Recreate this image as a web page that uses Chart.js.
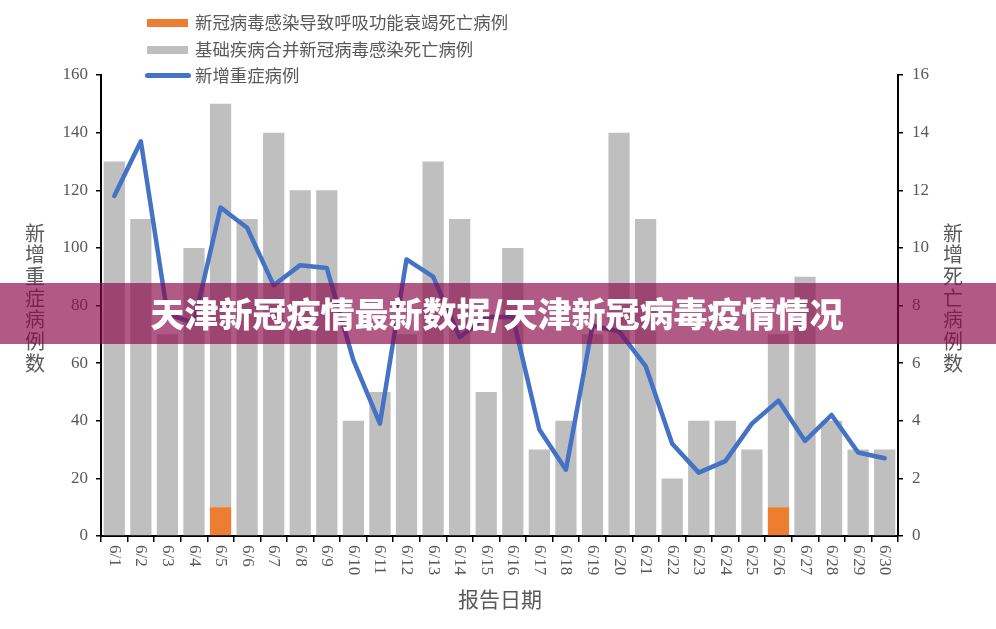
<!DOCTYPE html>
<html>
<head>
<meta charset="utf-8">
<script src="https://cdn.jsdelivr.net/npm/chart.js@4/dist/chart.umd.min.js"></script>
<style>
  body { margin: 0; background: #fff; }
  #wrap { position: relative; width: 996px; height: 629px; }
  #legend { position: absolute; left: 145px; top: 9px; font-family: "Noto Sans CJK SC"; font-size: 17.4px; color: #595959; }
  .item { position: relative; height: 26.7px; line-height: 26.7px; padding-left: 50px; }
  .sw { position: absolute; left: 2px; top: 10px; width: 41px; height: 8px; }
  .ln { position: absolute; left: 0px; top: 11px; width: 46px; height: 5px; border-radius: 3px; background: #4472c4; }
  #banner { position: absolute; left: 0; top: 283px; width: 996px; height: 61px; background: rgba(137, 9, 73, 0.67);
            color: #fff; font-family: "Noto Sans CJK SC"; font-weight: 900; font-size: 34px; line-height: 59px;
            text-align: center; padding-right: 2px; box-sizing: border-box; }
</style>
</head>
<body>
<div id="wrap">
  <canvas id="myChart" width="996" height="629"></canvas>
  <div id="legend">
    <div class="item"><span class="sw" style="background:#ed7d31"></span>新冠病毒感染导致呼吸功能衰竭死亡病例</div>
    <div class="item"><span class="sw" style="background:#bfbfbf"></span>基础疾病合并新冠病毒感染死亡病例</div>
    <div class="item"><span class="ln"></span>新增重症病例</div>
  </div>
  <div id="banner">天津新冠疫情最新数据/天津新冠病毒疫情情况</div>
</div>
<script>
const labels = ['6/1','6/2','6/3','6/4','6/5','6/6','6/7','6/8','6/9','6/10',
                '6/11','6/12','6/13','6/14','6/15','6/16','6/17','6/18','6/19','6/20',
                '6/21','6/22','6/23','6/24','6/25','6/26','6/27','6/28','6/29','6/30'];

// deaths (right axis)
const respFailDeaths = [0,0,0,0,1,0,0,0,0,0, 0,0,0,0,0,0,0,0,0,0, 0,0,0,0,0,1,0,0,0,0];
const comorbidDeaths = [13,11,7,10,14,11,14,12,12,4, 5,7,13,11,5,10,3,4,7,14, 11,2,4,4,3,6,9,4,3,3];

// new severe cases (left axis)
const severeCases = [118,137,77,74,114,107,87,94,93,61, 39,96,90,69,76,76,37,23,73,71, 59,32,22,26,39,47,33,42,29,27];

const leftTicks = [0,20,40,60,80,100,120,140,160];
const rightTicks = [0,2,4,6,8,10,12,14,16];

const leftTitle = '新增重症病例数';
const rightTitle = '新增死亡病例数';
const xTitle = '报告日期';

const tickFont = { family: 'Liberation Serif', size: 17 };
const grey = '#595959';

const extras = {
  id: 'extras',
  afterDraw(chart) {
    const ctx = chart.ctx;
    const xs = chart.scales.x;
    ctx.save();
    ctx.fillStyle = grey;
    ctx.font = '17px "Liberation Serif"';
    ctx.textAlign = 'left';
    ctx.textBaseline = 'middle';
    labels.forEach((lab, i) => {
      const x = xs.getPixelForValue(i);
      ctx.save();
      ctx.translate(x, 545);
      ctx.rotate(Math.PI / 2);
      ctx.fillText(lab, 0, 0);
      ctx.restore();
    });
    ctx.font = '21px "Noto Sans CJK SC"';
    ctx.textAlign = 'center';
    ctx.fillText(xTitle, 500, 599);
    ctx.font = '20px "Noto Sans CJK SC"';
    [...leftTitle].forEach((c, i) => ctx.fillText(c, 35, 233 + i * 21.7));
    [...rightTitle].forEach((c, i) => ctx.fillText(c, 953, 233 + i * 21.7));
    ctx.restore();
  }
};

const config = {
  type: 'bar',
  data: {
    labels: labels,
    datasets: [
      {
        type: 'line',
        label: '新增重症病例',
        data: severeCases,
        yAxisID: 'y',
        borderColor: '#4472c4',
        borderWidth: 4.5,
        pointRadius: 0,
        tension: 0,
        borderJoinStyle: 'round',
        borderCapStyle: 'round',
        order: 0
      },
      {
        label: '新冠病毒感染导致呼吸功能衰竭死亡病例',
        data: respFailDeaths,
        yAxisID: 'y1',
        backgroundColor: '#ed7d31',
        barPercentage: 0.8,
        categoryPercentage: 1.0,
        stack: 'd',
        order: 1
      },
      {
        label: '基础疾病合并新冠病毒感染死亡病例',
        data: comorbidDeaths,
        yAxisID: 'y1',
        backgroundColor: '#bfbfbf',
        barPercentage: 0.8,
        categoryPercentage: 1.0,
        stack: 'd',
        order: 1
      }
    ]
  },
  options: {
    responsive: false,
    animation: false,
    layout: { padding: { top: 75, left: 0, right: 0, bottom: 0 } },
    plugins: { legend: { display: false }, tooltip: { enabled: false } },
    scales: {
      x: {
        stacked: true,
        afterFit(s) { s.height = 93; },
        ticks: { display: false },
        grid: { offset: true, drawOnChartArea: false, drawTicks: true, tickLength: 6, color: '#000', lineWidth: 1.5 },
        border: { display: true, color: '#000', width: 2 }
      },
      y: {
        position: 'left',
        min: 0, max: 160,
        afterFit(s) { s.width = 101; },
        afterBuildTicks(s) { s.ticks = leftTicks.map(v => ({ value: v })); },
        ticks: { font: tickFont, color: grey, padding: 8 },
        grid: { drawOnChartArea: false, drawTicks: true, tickLength: 5, color: '#000', lineWidth: 1.5 },
        border: { display: true, color: '#000', width: 2 }
      },
      y1: {
        position: 'right',
        stacked: true,
        min: 0, max: 16,
        afterFit(s) { s.width = 98; },
        afterBuildTicks(s) { s.ticks = rightTicks.map(v => ({ value: v })); },
        ticks: { font: tickFont, color: grey, padding: 9 },
        grid: { drawOnChartArea: false, drawTicks: true, tickLength: 5, color: '#000', lineWidth: 1.5 },
        border: { display: true, color: '#000', width: 2 }
      }
    }
  },
  plugins: [extras]
};

const ctx = document.getElementById('myChart');
const myChart = new Chart(ctx, config);
</script>
</body>
</html>
